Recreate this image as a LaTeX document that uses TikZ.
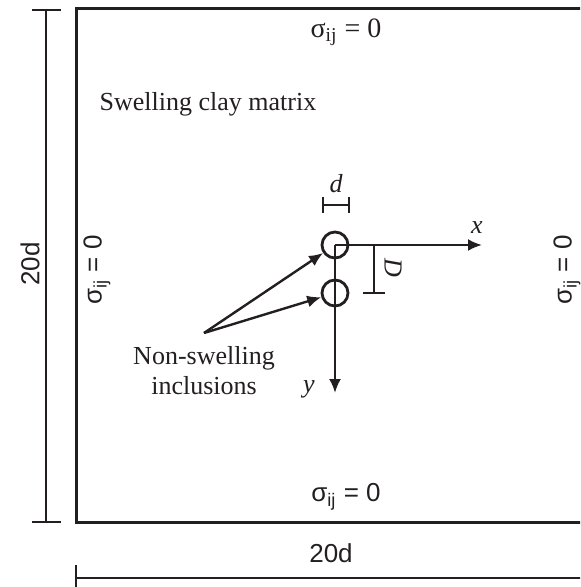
\documentclass[tikz,border=0pt]{standalone}
\usepackage{fontspec}
\setmainfont{Liberation Serif}
\setsansfont{Liberation Sans}
\usetikzlibrary{arrows.meta}
\definecolor{scInk}{HTML}{231F20}
\tikzset{
  sc diagram/.style={font=\fontsize{13}{15}\selectfont, text=scInk,
    x=0.5pt, y=-0.5pt},
  sc frame/.style={draw=scInk, line width=1.5pt},
  sc dim/.style={draw=scInk, line width=1pt},
  sc axis/.style={-{Latex[length=7pt,width=6pt]}, draw=scInk, line width=1.2pt},
  sc pointer/.style={sc axis},
  sc inclusion/.style={circle, draw=scInk, line width=1.4pt,
    minimum size=13pt, inner sep=0pt},
  sc side/.style={font=\sffamily\fontsize{13}{15}\selectfont},
  sc bc/.style={font=\fontsize{14}{16}\selectfont},
  sc var/.style={font=\itshape\fontsize{13}{15}\selectfont}
}
\begin{document}
\begin{tikzpicture}[sc diagram]
\useasboundingbox (0,0) rectangle (580,587);
\clip (0,0) rectangle (580,587);
% clay domain
\draw[sc frame] (600,9) -- (76,9) -- (76,522) -- (600,522);
% overall size
\draw[sc dim] (46,10) -- (46,522) (32,10) -- (61,10) (32,522) -- (61,522);
\node[sc side,rotate=90] (hsize) at (30,264) {20d};
\draw[sc dim] (76,578) -- (600,578) (76,565) -- (76,592);
\node[sc side] (wsize) at (331,553) {20d};
% boundary conditions
\node[sc bc] (bcTop) at (346,32) {σ\textsubscript{ij} = 0};
\node[sc bc,sc side] (bcBottom) at (346,497) {σ\textsubscript{ij} = 0};
\node[sc bc,sc side,rotate=90] (bcLeft) at (97,270) {σ\textsubscript{ij} = 0};
\node[sc bc,sc side,rotate=90] (bcRight) at (567,270) {σ\textsubscript{ij} = 0};
\node (matrix) at (208,104) {Swelling clay matrix};
% inclusions and axes
\coordinate (o) at (335,245);
\node[sc inclusion] (incA) at (o) {};
\node[sc inclusion] (incB) at (335,293) {};
\coordinate (xend) at (482,245);
\coordinate (yend) at (335,393);
\draw[sc axis] (o) -- (xend);
\draw[sc axis] (o) -- (yend);
\node[sc var] (xlab) at (477,228) {x};
\node[sc var] (ylab) at (309,389) {y};
% spacing marks
\draw[sc dim] (323,205) -- (349,205) (323,197) -- (323,213) (349,197) -- (349,213);
\node[sc var] (dlab) at (336,184) {d};
\draw[sc dim] (374,245) -- (374,293) (363,245) -- (385,245) (363,293) -- (385,293);
\node[sc var,rotate=-90] (Dlab) at (393,268) {D};
% labels of the inclusions
\coordinate (tail) at (204,333);
\draw[sc pointer] (tail) -- (incA);
\draw[sc pointer] (tail) -- (incB);
\node[align=center] (inclusions) at (204,371) {Non-swelling\\inclusions};
\end{tikzpicture}
\end{document}
